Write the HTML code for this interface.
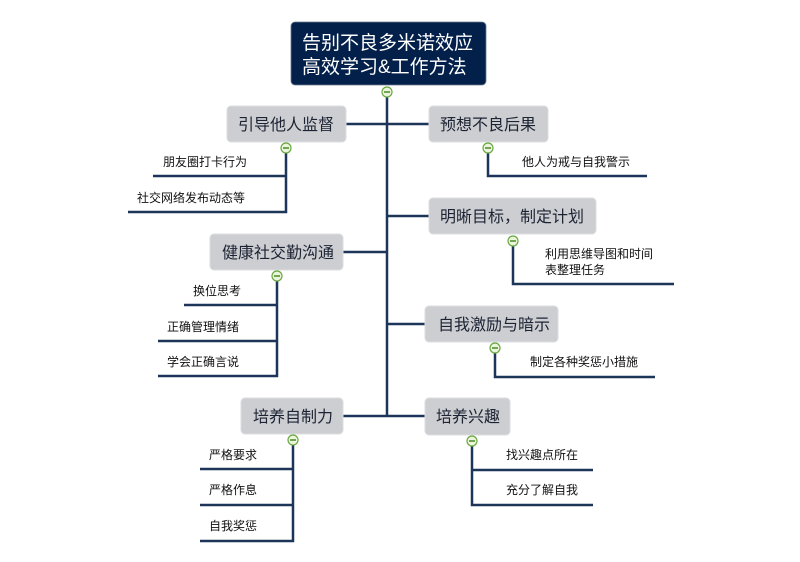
<!DOCTYPE html>
<html><head><meta charset="utf-8"><style>
html,body{margin:0;padding:0;background:#fff;}
svg{display:block;}
text{font-family:"Liberation Sans","Noto Sans CJK SC",sans-serif;}
.n{font-size:16px;fill:#1c2333;}
.c{font-size:12px;fill:#111;}
</style></head><body>
<svg width="800" height="562" viewBox="0 0 800 562" xmlns="http://www.w3.org/2000/svg">
<g stroke="#1c3558" stroke-width="2.5" fill="none">
<line x1="387" y1="92" x2="387" y2="416"/>
<line x1="346" y1="124" x2="429" y2="124"/>
<line x1="343" y1="252" x2="387" y2="252"/>
<line x1="343" y1="416" x2="429" y2="416"/>
<line x1="387" y1="216" x2="429" y2="216"/>
<line x1="387" y1="324" x2="425" y2="324"/>
<polyline points="286,148 286,212 128,212"/><line x1="153" y1="176" x2="286" y2="176"/>
<polyline points="277,276 277,376 158,376"/><line x1="184" y1="305" x2="277" y2="305"/><line x1="158" y1="341" x2="277" y2="341"/>
<polyline points="293,440 293,541 200,541"/><line x1="200" y1="469" x2="293" y2="469"/><line x1="200" y1="505" x2="293" y2="505"/>
<polyline points="488,148 488,176 647,176"/>
<polyline points="513,241 513,284 674,284"/>
<polyline points="495,348 495,377 655,377"/>
<polyline points="472,441 472,505 593,505"/><line x1="472" y1="470" x2="593" y2="470"/>
</g>
<rect x="291" y="22" width="195" height="63" rx="4" fill="#03204a" stroke="#6d7a90" stroke-width="0.8"/>
<text x="302" y="49" font-size="19" fill="#fff">告别不良多米诺效应</text>
<text x="302" y="73" font-size="19" fill="#fff">高效学习&amp;工作方法</text>
<g fill="#cdced2" stroke="#dcdde0" stroke-width="1">
<rect x="227" y="106" width="119" height="36" rx="4"/>
<rect x="210" y="234" width="133" height="36" rx="4"/>
<rect x="241" y="398" width="102" height="36" rx="4"/>
<rect x="429" y="106" width="119" height="36" rx="4"/>
<rect x="429" y="198" width="167" height="36" rx="4"/>
<rect x="425" y="306" width="133" height="36" rx="4"/>
<rect x="425" y="398" width="85" height="37" rx="4"/>
</g>
<text class="n" x="238" y="130">引导他人监督</text>
<text class="n" x="222" y="258">健康社交勤沟通</text>
<text class="n" x="253" y="422">培养自制力</text>
<text class="n" x="440" y="130">预想不良后果</text>
<text class="n" x="440" y="222">明晰目标，制定计划</text>
<text class="n" x="438" y="330">自我激励与暗示</text>
<text class="n" x="436" y="422">培养兴趣</text>
<text class="c" x="163" y="166">朋友圈打卡行为</text>
<text class="c" x="137" y="202">社交网络发布动态等</text>
<text class="c" x="193" y="295">换位思考</text>
<text class="c" x="167" y="331">正确管理情绪</text>
<text class="c" x="167" y="366">学会正确言说</text>
<text class="c" x="209" y="459">严格要求</text>
<text class="c" x="209" y="494">严格作息</text>
<text class="c" x="209" y="530">自我奖惩</text>
<text class="c" x="522" y="166">他人为戒与自我警示</text>
<text class="c" x="545" y="258">利用思维导图和时间</text>
<text class="c" x="545" y="274">表整理任务</text>
<text class="c" x="530" y="366">制定各种奖惩小措施</text>
<text class="c" x="506" y="459">找兴趣点所在</text>
<text class="c" x="506" y="494">充分了解自我</text>
<g fill="#eaf5dc" stroke="#6aa842" stroke-width="1.2">
<circle cx="387" cy="92" r="5"/><circle cx="286" cy="148" r="5"/><circle cx="277" cy="276" r="5"/><circle cx="293" cy="440" r="5"/>
<circle cx="488" cy="148" r="5"/><circle cx="513" cy="241" r="5"/><circle cx="495" cy="348" r="5"/><circle cx="472" cy="441" r="5"/>
</g>
<g stroke="#4a8a2a" stroke-width="1.5">
<line x1="384" y1="92" x2="390" y2="92"/><line x1="283" y1="148" x2="289" y2="148"/><line x1="274" y1="276" x2="280" y2="276"/><line x1="290" y1="440" x2="296" y2="440"/>
<line x1="485" y1="148" x2="491" y2="148"/><line x1="510" y1="241" x2="516" y2="241"/><line x1="492" y1="348" x2="498" y2="348"/><line x1="469" y1="441" x2="475" y2="441"/>
</g>
</svg>
</body></html>
